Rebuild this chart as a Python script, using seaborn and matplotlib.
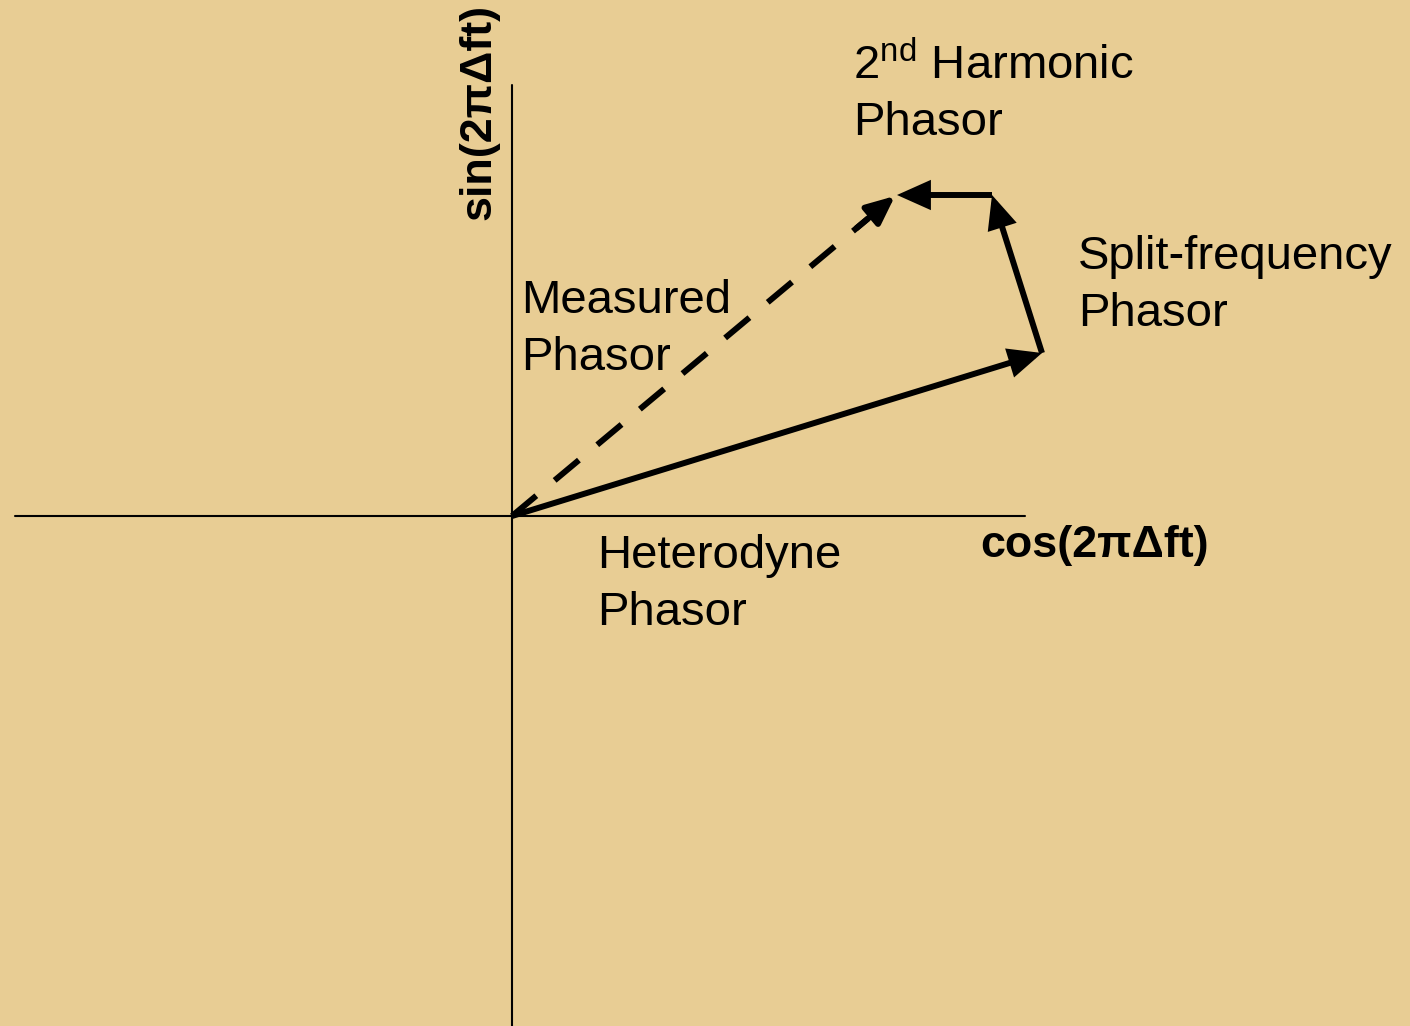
import matplotlib
matplotlib.use("Agg")
import matplotlib.pyplot as plt
import seaborn as sns
import pandas as pd

# ---- data (units: pixels relative to the origin of the phasor diagram) ----
phasor_names = ["Heterodyne", "Split-frequency", "2nd Harmonic"]
start_x = [0, 530, 480]
start_y = [0, 163, 321]
end_x = [530, 480, 385]
end_y = [163, 321, 321]
measured_end = (383, 320)

x_axis_span = [-497, 513]
y_axis_span = [-510, 431]

labels = ["2$^{\\mathrm{nd}}$ Harmonic\nPhasor", "Split-frequency\nPhasor",
          "Measured\nPhasor", "Heterodyne\nPhasor"]
# x of left edge, y of the last line's baseline
label_x = [341, 566, 9, 85]
label_y = [381, 190, 146, -109]

x_title = "cos(2πΔft)"
y_title = "sin(2πΔft)"

bg = "#E8CD94"
sns.set_theme(style="white", rc={"axes.facecolor": bg, "figure.facecolor": bg,
                                 "text.color": "black"})
plt.rcParams["font.family"] = ["Liberation Sans", "DejaVu Sans"]
plt.rcParams["mathtext.fontset"] = "custom"
plt.rcParams["mathtext.rm"] = "Liberation Sans"

fig = plt.figure(figsize=(14.1, 10.26), dpi=100)
ax = fig.add_axes([0, 0, 1, 1])
ax.set_xlim(-512, 898)
ax.set_ylim(-510, 516)
ax.axis("off")

# coordinate axes
axes_df = pd.DataFrame({"x": x_axis_span, "y": [0, 0]})
sns.lineplot(data=axes_df, x="x", y="y", ax=ax, color="black", lw=1.5, sort=False)
ax.plot([0, 0], y_axis_span, color="black", lw=1.5)

head = "-|>,head_length=0.85,head_width=0.38"
for sx, sy, ex, ey in zip(start_x, start_y, end_x, end_y):
    ax.annotate("", xy=(ex, ey), xytext=(sx, sy),
                arrowprops=dict(arrowstyle=head, lw=4.3, color="black",
                                mutation_scale=20, shrinkA=0, shrinkB=0,
                                joinstyle="miter", capstyle="butt"))

# measured (dashed) phasor
mx, my = measured_end
frac = 0.93
ax.plot([0, mx * frac], [0, my * frac], color="black", lw=4.3,
        linestyle=(0, (5.3, 4.0)), solid_capstyle="butt", dash_capstyle="butt")
ax.annotate("", xy=(mx, my), xytext=(mx * 0.9, my * 0.9),
            arrowprops=dict(arrowstyle=head, lw=4.3, color="black",
                            mutation_scale=20, shrinkA=0, shrinkB=0))

for t, x, y in zip(labels, label_x, label_y):
    ax.text(x, y, t, fontsize=34, ha="left", va="baseline", linespacing=1.37,
            color="black")

ax.text(468, -41, x_title, fontsize=32.3, fontweight="bold", ha="left",
        va="baseline", color="black")
ax.text(-22, 296, y_title, fontsize=32.3, fontweight="bold", ha="left",
        va="baseline", rotation=90, rotation_mode="anchor", color="black")

fig.savefig("out.png", dpi=100, facecolor=bg)
